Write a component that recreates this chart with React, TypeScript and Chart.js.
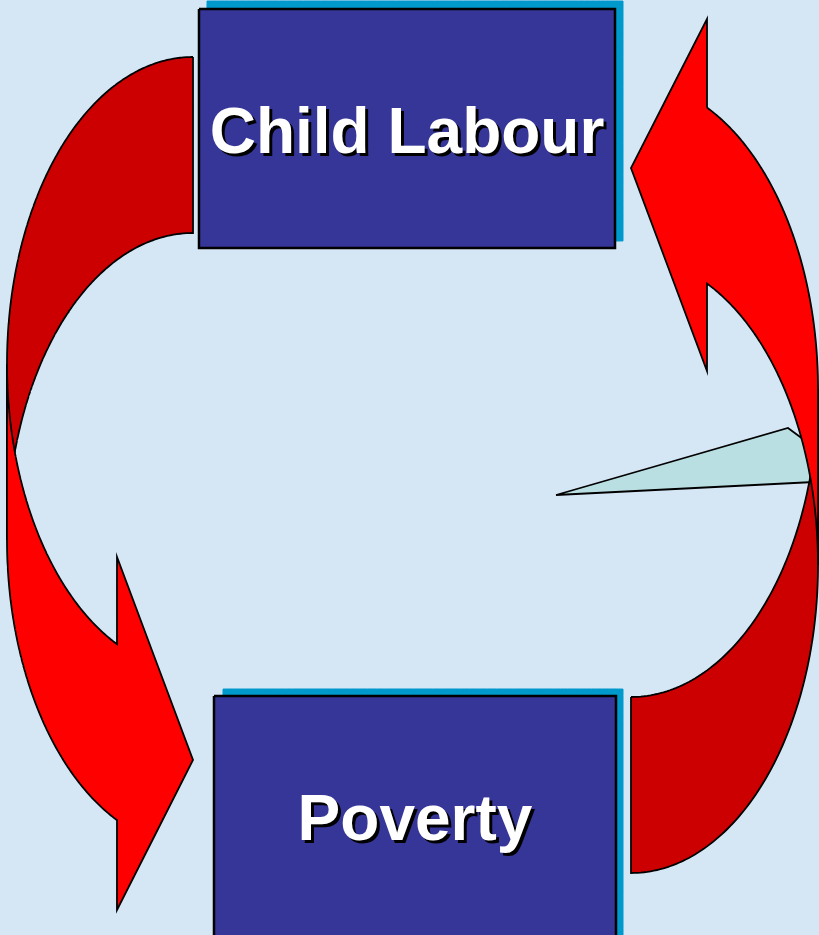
import React, { useEffect, useRef } from 'react';
import { Chart, registerables } from 'chart.js';

Chart.register(...registerables);

const W = 819;
const H = 935;

// Colours
const BG = 'rgb(213,230,245)';
const BOX_FILL = '#363699';
const BOX_SHADOW = '#0099CC';
const RED_FRONT = '#FF0000';
const RED_BACK = '#CC0000';
const WEDGE_FILL = '#BADFE2';

// Box labels and label anchors (x centre, text baseline)
const boxLabels = ['Child Labour', 'Poverty'];
const labelX = [407, 415];
const labelBaseline = [153, 840];

// Boxes: left, top, right, bottom
const boxLeft = [199, 214];
const boxTop = [9, 696];
const boxRight = [615, 616];
const boxBottom = [248, 945];
// Box 3-D edge rectangles
const edgeLeft = [207, 223];
const edgeTop = [1, 689];
const edgeRight = [623, 623];
const edgeBottom = [241, 945];

// Curved arrows (left: towards Poverty, right: towards Child Labour)
// ellipse centre x, radii, centre y of the two band ellipses
const arrowCx = [193, 631];
const arrowRx = [186, 187];
const arrowRy = [307, 308];
const arrowCyA = [364, 565];
const arrowCyB = [540, 389];
// arrow heads: base x, tip x, tip y, head ends y
const headBaseX = [117, 707];
const headTipX = [193, 631];
const headTipY = [760, 168];
const headEndNear = [557, 371];
const headEndFar = [910, 19];

// Pointer wedge
const wedgeX = [556, 788, 834, 834, 556];
const wedgeY = [495, 428, 462, 481, 495];

type P = [number, number];

function arc(cx: number, cy: number, rx: number, ry: number, a0: number, a1: number, n = 90): P[] {
  const pts: P[] = [];
  for (let i = 0; i <= n; i++) {
    const t = ((a0 + ((a1 - a0) * i) / n) * Math.PI) / 180;
    pts.push([cx + rx * Math.cos(t), cy + ry * Math.sin(t)]);
  }
  return pts;
}

function angleAtX(cx: number, rx: number, x: number, lower: boolean): number {
  const a = (Math.acos((x - cx) / rx) * 180) / Math.PI; // 0..180
  return lower ? a : 360 - a;
}

function rect(l: number, t: number, r: number, b: number): P[] {
  return [[l, t], [r, t], [r, b], [l, b], [l, t]];
}

function close(pts: P[]): P[] {
  return [...pts, pts[0]];
}

function buildShapes() {
  // Left arrow (index 0)
  const L = 0;
  const lBack = close([
    ...arc(arrowCx[L], arrowCyA[L], arrowRx[L], arrowRy[L], 270, 180),
    ...arc(arrowCx[L], arrowCyB[L], arrowRx[L], arrowRy[L], 180, 270),
  ]);
  const lAng = angleAtX(arrowCx[L], arrowRx[L], headBaseX[L], true);
  const lFront = close([
    ...arc(arrowCx[L], arrowCyA[L], arrowRx[L], arrowRy[L], 180, lAng),
    [headBaseX[L], headEndNear[L]],
    [headTipX[L], headTipY[L]],
    [headBaseX[L], headEndFar[L]],
    ...arc(arrowCx[L], arrowCyB[L], arrowRx[L], arrowRy[L], lAng, 180),
  ]);
  // Right arrow (index 1)
  const R = 1;
  const rBack = close([
    ...arc(arrowCx[R], arrowCyB[R], arrowRx[R], arrowRy[R], 90, 0),
    ...arc(arrowCx[R], arrowCyA[R], arrowRx[R], arrowRy[R], 0, 90),
  ]);
  const rAng = angleAtX(arrowCx[R], arrowRx[R], headBaseX[R], false);
  const rFront = close([
    ...arc(arrowCx[R], arrowCyB[R], arrowRx[R], arrowRy[R], rAng, 360),
    ...arc(arrowCx[R], arrowCyA[R], arrowRx[R], arrowRy[R], 360, rAng),
    [headBaseX[R], headEndNear[R]],
    [headTipX[R], headTipY[R]],
    [headBaseX[R], headEndFar[R]],
  ]);
  const wedge: P[] = wedgeX.map((x, i) => [x, wedgeY[i]] as P);

  const list: { pts: P[]; fill: string; stroke: string; width: number }[] = [
    { pts: wedge, fill: WEDGE_FILL, stroke: '#000', width: 1.8 },
    { pts: rBack, fill: RED_BACK, stroke: '#000', width: 1.8 },
    { pts: rFront, fill: RED_FRONT, stroke: '#000', width: 1.8 },
    { pts: lBack, fill: RED_BACK, stroke: '#000', width: 1.8 },
    { pts: lFront, fill: RED_FRONT, stroke: '#000', width: 1.8 },
  ];
  for (let i = 0; i < boxLabels.length; i++) {
    list.push({ pts: rect(edgeLeft[i], edgeTop[i], edgeRight[i], edgeBottom[i]), fill: BOX_SHADOW, stroke: BOX_SHADOW, width: 1 });
    list.push({ pts: rect(boxLeft[i], boxTop[i], boxRight[i], boxBottom[i]), fill: BOX_FILL, stroke: '#000', width: 2.5 });
  }
  const n = list.length;
  return list.map((s, i) => ({
    data: s.pts.map(([x, y]) => ({ x, y })),
    backgroundColor: s.fill,
    borderColor: s.stroke,
    borderWidth: s.width,
    borderJoinStyle: 'miter' as const,
    fill: 'shape' as const,
    tension: 0.000001,
    pointRadius: 0,
    pointHoverRadius: 0,
    order: n - i,
  }));
}

const bgPlugin = {
  id: 'bgFill',
  beforeDraw(chart: any) {
    const ctx = chart.ctx;
    ctx.save();
    ctx.fillStyle = BG;
    ctx.fillRect(0, 0, chart.width, chart.height);
    ctx.restore();
  },
};

const labelPlugin = {
  id: 'boxLabels',
  afterDatasetsDraw(chart: any) {
    const ctx = chart.ctx;
    const xs = chart.scales.x;
    const ys = chart.scales.y;
    ctx.save();
    ctx.font = 'bold 64px "Liberation Sans", Arial, sans-serif';
    ctx.textAlign = 'center';
    ctx.textBaseline = 'alphabetic';
    boxLabels.forEach((txt, i) => {
      const x = xs.getPixelForValue(labelX[i]);
      const y = ys.getPixelForValue(labelBaseline[i]);
      ctx.fillStyle = '#000';
      ctx.fillText(txt, x + 3, y + 3);
      ctx.fillStyle = '#FFFFFF';
      ctx.fillText(txt, x, y);
    });
    ctx.restore();
  },
};

export default function App() {
  const ref = useRef<HTMLCanvasElement>(null);
  useEffect(() => {
    document.body.style.margin = '0';
    document.body.style.overflow = 'hidden';
    document.body.style.background = BG;
    const chart = new Chart(ref.current as HTMLCanvasElement, {
      type: 'line',
      data: { datasets: buildShapes() as any },
      options: {
        animation: false,
        responsive: false,
        devicePixelRatio: 1,
        events: [],
        layout: { padding: 0 },
        plugins: { legend: { display: false }, tooltip: { enabled: false } },
        scales: {
          x: { type: 'linear', min: 0, max: W, display: false },
          y: { type: 'linear', min: 0, max: H, reverse: true, display: false },
        },
      },
      plugins: [bgPlugin, labelPlugin],
    });
    return () => chart.destroy();
  }, []);
  return (
    <div style={{ width: W, height: H }}>
      <canvas ref={ref} width={W} height={H} style={{ display: 'block', width: W, height: H }} />
    </div>
  );
}
